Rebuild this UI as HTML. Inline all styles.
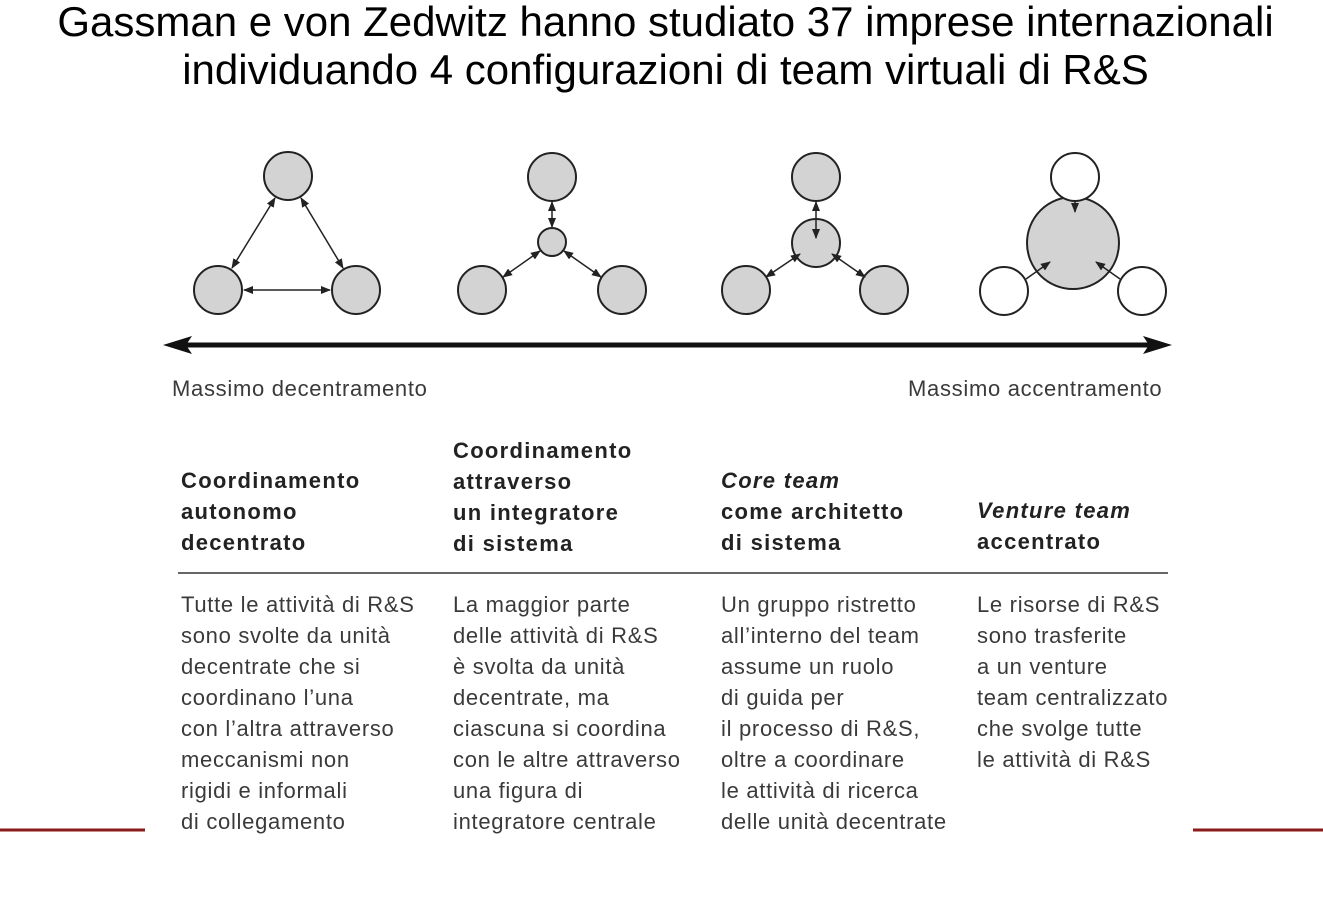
<!DOCTYPE html>
<html><head><meta charset="utf-8"><style>
body{margin:0;width:1323px;height:907px;background:#fff;overflow:hidden;font-family:"Liberation Sans",sans-serif;position:relative}
.title{position:absolute;left:4px;top:-2px;width:1323px;text-align:center;font-size:42px;line-height:48px;color:#000;white-space:nowrap}
.t{position:absolute;font-size:22px;letter-spacing:0.7px;color:#3a3a3a;line-height:31px;white-space:nowrap}
.h{font-weight:bold;color:#222;letter-spacing:1.3px}
</style></head><body>
<div class="title">Gassman e von Zedwitz hanno studiato 37 imprese internazionali<br>individuando 4 configurazioni di team virtuali di R&amp;S</div>
<svg width="1323" height="907" style="position:absolute;left:0;top:0">
<defs><marker id="a" markerWidth="10" markerHeight="8" refX="9" refY="4" orient="auto-start-reverse" markerUnits="userSpaceOnUse"><path d="M0,0 L10,4 L0,8 Z" fill="#222"/></marker></defs>
<g stroke="#222" stroke-width="2" fill="#d3d3d3">
<circle cx="288" cy="176" r="24"/><circle cx="218" cy="290" r="24"/><circle cx="356" cy="290" r="24"/>
<line x1="275" y1="198" x2="232" y2="268" marker-start="url(#a)" marker-end="url(#a)" stroke-width="1.5"/>
<line x1="301" y1="198" x2="343" y2="268" marker-start="url(#a)" marker-end="url(#a)" stroke-width="1.5"/>
<line x1="244" y1="290" x2="330" y2="290" marker-start="url(#a)" marker-end="url(#a)" stroke-width="1.5"/>
</g>
<g stroke="#222" stroke-width="2" fill="#d3d3d3">
<circle cx="552" cy="177" r="24"/><circle cx="552" cy="242" r="14"/><circle cx="482" cy="290" r="24"/><circle cx="622" cy="290" r="24"/>
<line x1="552" y1="202" x2="552" y2="227" marker-start="url(#a)" marker-end="url(#a)" stroke-width="1.5"/>
<line x1="540" y1="251" x2="503" y2="277" marker-start="url(#a)" marker-end="url(#a)" stroke-width="1.5"/>
<line x1="564" y1="251" x2="601" y2="277" marker-start="url(#a)" marker-end="url(#a)" stroke-width="1.5"/>
</g>
<g stroke="#222" stroke-width="2" fill="#d3d3d3">
<circle cx="816" cy="177" r="24"/><circle cx="816" cy="243" r="24"/><circle cx="746" cy="290" r="24"/><circle cx="884" cy="290" r="24"/>
<line x1="816" y1="202" x2="816" y2="238" marker-start="url(#a)" marker-end="url(#a)" stroke-width="1.5"/>
<line x1="800" y1="254" x2="766" y2="277" marker-start="url(#a)" marker-end="url(#a)" stroke-width="1.5"/>
<line x1="832" y1="254" x2="865" y2="277" marker-start="url(#a)" marker-end="url(#a)" stroke-width="1.5"/>
</g>
<g stroke="#222" stroke-width="2">
<circle cx="1073" cy="243" r="46" fill="#d3d3d3"/>
<circle cx="1075" cy="177" r="24" fill="#fff"/><circle cx="1004" cy="291" r="24" fill="#fff"/><circle cx="1142" cy="291" r="24" fill="#fff"/>
<line x1="1075" y1="201" x2="1075" y2="212" marker-end="url(#a)" stroke-width="1.5"/>
<line x1="1026" y1="279" x2="1050" y2="262" marker-end="url(#a)" stroke-width="1.5"/>
<line x1="1120" y1="279" x2="1096" y2="262" marker-end="url(#a)" stroke-width="1.5"/>
</g>
<g>
<line x1="185" y1="345" x2="1150" y2="345" stroke="#111" stroke-width="5"/>
<path d="M163,345 L192,336 L186,345 L192,354 Z" fill="#111"/>
<path d="M1172,345 L1143,336 L1149,345 L1143,354 Z" fill="#111"/>
</g>
<line x1="178" y1="573" x2="1168" y2="573" stroke="#333" stroke-width="1.5"/>
<line x1="0" y1="830" x2="145" y2="830" stroke="#8b1a1a" stroke-width="3"/>
<line x1="1193" y1="830" x2="1323" y2="830" stroke="#8b1a1a" stroke-width="3"/>
</svg>
<div class="t" style="left:172px;top:373px">Massimo decentramento</div>
<div class="t" style="left:908px;top:373px">Massimo accentramento</div>
<div class="t h" style="left:181px;top:465px">Coordinamento<br>autonomo<br>decentrato</div>
<div class="t h" style="left:453px;top:435px">Coordinamento<br>attraverso<br>un integratore<br>di sistema</div>
<div class="t h" style="left:721px;top:465px"><i>Core team</i><br>come architetto<br>di sistema</div>
<div class="t h" style="left:977px;top:495px"><i>Venture team</i><br>accentrato</div>
<div class="t" style="left:181px;top:589px">Tutte le attività di R&amp;S<br>sono svolte da unità<br>decentrate che si<br>coordinano l’una<br>con l’altra attraverso<br>meccanismi non<br>rigidi e informali<br>di collegamento</div>
<div class="t" style="left:453px;top:589px">La maggior parte<br>delle attività di R&amp;S<br>è svolta da unità<br>decentrate, ma<br>ciascuna si coordina<br>con le altre attraverso<br>una figura di<br>integratore centrale</div>
<div class="t" style="left:721px;top:589px">Un gruppo ristretto<br>all’interno del team<br>assume un ruolo<br>di guida per<br>il processo di R&amp;S,<br>oltre a coordinare<br>le attività di ricerca<br>delle unità decentrate</div>
<div class="t" style="left:977px;top:589px">Le risorse di R&amp;S<br>sono trasferite<br>a un venture<br>team centralizzato<br>che svolge tutte<br>le attività di R&amp;S</div>
</body></html>
